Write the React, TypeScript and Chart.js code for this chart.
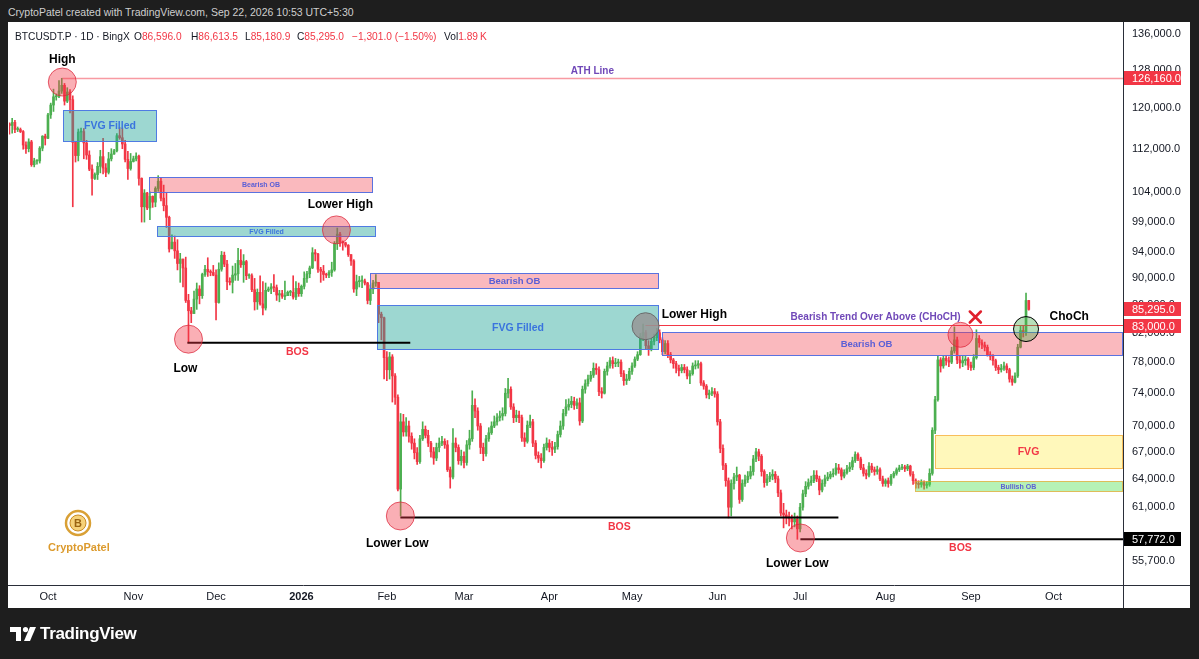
import React, { useEffect, useRef } from "react";
import { Chart, registerables } from "chart.js";

Chart.register(...registerables);

const FONT = '"Liberation Sans", Arial, Helvetica, sans-serif';
const UP = "#4caf50";
const DOWN = "#f23645";

// ---------- DATA (prices in thousand USDT, day 0 = 1 Oct 2025) ----------
const FIRST_CANDLE_DAY = -14; // 17 Sep 2025
const FIRST_OPEN = 116.8;

// rows: [high, low, close]; each open is the previous close
const sep2025 = [
  [117.0, 114.8, 116.5], [117.9, 115.0, 117.1], [117.5, 115.1, 115.7], [116.2, 115.3, 115.7],
  [116.0, 115.1, 115.3], [115.5, 111.9, 112.7], [113.3, 111.1, 112.0], [113.9, 111.4, 113.3],
  [113.6, 108.7, 109.0], [110.2, 108.6, 109.7], [109.9, 109.1, 109.7], [112.4, 109.3, 112.1],
  [114.5, 111.6, 114.4], [114.8, 112.7, 114.0],
];
const oct2025 = [
  [118.9, 113.9, 118.6], [121.0, 117.9, 120.6], [123.9, 119.3, 122.3], [122.9, 121.6, 122.4],
  [125.7, 122.1, 123.5], [126.2, 123.0, 124.7], [125.1, 120.6, 121.4], [124.2, 121.1, 123.3],
  [123.8, 119.0, 121.7], [122.5, 101.5, 113.2], [113.3, 109.5, 110.7], [115.8, 109.7, 115.2],
  [116.0, 113.6, 115.3], [115.9, 110.1, 113.1], [113.6, 110.0, 110.8], [111.6, 107.9, 108.2],
  [109.0, 103.5, 106.5], [107.5, 106.3, 107.2], [109.4, 106.3, 108.7], [111.7, 107.5, 110.5],
  [114.0, 107.3, 108.4], [109.2, 106.8, 107.6], [111.3, 107.3, 110.1], [112.0, 109.7, 111.0],
  [111.9, 110.9, 111.6], [114.9, 111.4, 114.5], [116.1, 113.8, 114.1], [116.0, 112.0, 112.9],
  [113.6, 109.5, 110.0], [111.5, 106.3, 108.3], [111.1, 108.0, 109.6],
];
const nov2025 = [
  [110.6, 109.5, 110.1], [111.2, 109.7, 110.6], [110.8, 105.3, 106.5], [106.6, 98.9, 101.5],
  [104.5, 98.9, 103.9], [104.0, 101.0, 101.3], [104.1, 99.3, 103.3], [103.4, 101.4, 102.3],
  [105.0, 101.5, 104.7], [107.0, 104.2, 106.0], [106.6, 102.5, 103.0], [105.3, 100.8, 101.7],
  [104.0, 98.0, 99.7], [99.9, 94.0, 94.5], [96.8, 94.6, 95.6], [96.6, 93.0, 94.2],
  [96.0, 91.2, 92.2], [93.8, 89.3, 92.9], [92.9, 88.6, 91.5], [93.2, 86.3, 86.6],
  [87.5, 80.6, 85.1], [85.6, 83.4, 84.7], [88.0, 84.7, 86.8], [89.2, 85.3, 88.3],
  [88.8, 86.1, 87.3], [90.7, 86.9, 90.5], [91.9, 90.2, 91.3], [93.1, 90.2, 90.9],
  [91.2, 90.3, 90.8], [91.9, 90.3, 90.4],
];
const dec2025 = [
  [91.2, 83.8, 86.3], [92.3, 86.2, 91.3], [94.1, 91.0, 93.5], [94.0, 91.7, 92.1],
  [92.7, 88.2, 89.4], [90.0, 88.9, 89.3], [91.8, 87.7, 90.4], [92.2, 89.6, 90.6],
  [94.6, 89.6, 92.7], [94.4, 91.6, 92.0], [93.6, 89.3, 92.5], [92.7, 89.7, 90.3],
  [90.6, 89.9, 90.3], [90.6, 87.9, 88.2], [89.9, 85.2, 86.4], [88.3, 85.3, 87.8],
  [90.3, 85.9, 86.1], [89.4, 84.5, 85.5], [89.2, 85.2, 88.1], [88.6, 87.9, 88.3],
  [89.1, 87.6, 88.6], [90.5, 87.9, 88.5], [88.9, 86.6, 87.4], [88.1, 86.4, 87.6],
  [88.1, 86.9, 87.2], [89.5, 86.7, 87.3], [88.0, 87.3, 87.8], [88.1, 87.3, 87.8],
  [90.3, 86.8, 87.1], [89.4, 86.7, 88.4], [89.2, 87.2, 87.6],
];
const jan2026 = [
  [88.9, 87.2, 88.7], [90.9, 88.3, 89.9], [91.0, 89.3, 90.6], [91.8, 90.0, 91.5],
  [94.7, 91.4, 93.9], [94.4, 92.6, 93.7], [93.8, 90.8, 91.3], [91.6, 89.3, 91.0],
  [91.9, 89.6, 90.5], [90.7, 90.0, 90.4], [91.1, 90.0, 90.8], [92.4, 90.2, 91.2],
  [95.7, 91.0, 95.4], [97.9, 94.4, 96.9], [97.2, 94.9, 95.6], [95.8, 94.3, 95.5],
  [95.6, 94.8, 95.1], [95.2, 93.3, 93.6], [93.6, 91.9, 92.6], [92.8, 87.8, 88.3],
  [90.4, 87.3, 89.4], [90.2, 88.6, 89.5], [90.3, 88.5, 89.5], [89.8, 88.9, 89.2],
  [89.3, 86.1, 86.6], [88.9, 86.0, 88.3], [89.6, 87.6, 89.2], [90.5, 88.7, 89.3],
  [89.3, 83.4, 84.6], [84.9, 81.0, 84.1], [84.2, 75.8, 78.6],
];
const feb2026 = [
  [79.4, 75.6, 77.0], [79.3, 75.8, 78.7], [79.0, 72.9, 76.2], [76.5, 72.6, 73.5],
  [73.8, 62.7, 62.9], [71.5, 60.1, 70.5], [71.4, 68.8, 69.3], [71.0, 68.8, 70.0],
  [70.6, 68.1, 68.8], [69.2, 67.3, 68.0], [68.5, 66.2, 66.9], [67.5, 65.6, 65.9],
  [68.9, 65.7, 68.5], [70.5, 68.3, 69.6], [70.0, 68.6, 68.9], [69.5, 67.6, 68.0],
  [68.2, 66.4, 67.0], [67.5, 65.6, 66.3], [68.0, 66.0, 67.5], [68.6, 67.0, 68.0],
  [68.8, 67.7, 68.2], [68.5, 67.4, 67.8], [68.3, 64.8, 65.0], [65.3, 63.0, 64.2],
  [69.7, 64.0, 68.0], [68.6, 67.0, 67.5], [67.8, 65.6, 66.0], [67.2, 65.5, 66.5],
];
const mar2026 = [
  [67.0, 65.2, 65.8], [68.3, 65.5, 67.8], [69.5, 67.3, 68.5], [74.3, 68.2, 72.5],
  [73.3, 71.0, 71.8], [72.2, 69.5, 70.0], [70.3, 66.8, 67.5], [68.0, 66.0, 66.8],
  [68.9, 66.5, 68.5], [69.8, 68.2, 69.2], [70.5, 69.0, 70.0], [71.2, 69.8, 70.5],
  [71.5, 70.1, 71.0], [71.8, 70.6, 71.2], [72.2, 70.7, 71.5], [74.6, 71.2, 74.0],
  [75.9, 73.4, 74.5], [74.8, 72.0, 72.3], [72.7, 70.4, 71.0], [71.9, 70.5, 71.3],
  [71.8, 70.4, 71.0], [71.3, 68.2, 68.6], [69.2, 67.6, 68.2], [70.6, 68.0, 70.1],
  [71.3, 69.8, 70.5], [70.8, 67.6, 68.0], [68.3, 66.2, 66.6], [67.0, 65.8, 66.3],
  [66.8, 65.2, 66.0], [67.9, 65.8, 67.5], [68.6, 67.2, 68.0],
];
const apr2026 = [
  [68.4, 67.0, 67.5], [68.2, 66.6, 67.3], [68.1, 66.9, 67.6], [69.4, 67.3, 69.0],
  [70.6, 68.7, 70.0], [72.0, 69.6, 71.5], [73.2, 71.2, 72.3], [73.3, 71.9, 72.6],
  [73.6, 72.2, 73.0], [73.5, 72.0, 72.5], [73.3, 72.1, 72.8], [73.4, 70.1, 70.6],
  [74.9, 70.4, 74.5], [75.7, 74.0, 75.2], [76.3, 74.9, 75.8], [76.8, 75.5, 76.3],
  [77.9, 76.0, 77.2], [77.8, 76.4, 77.0], [77.4, 73.7, 74.2], [74.7, 73.4, 74.0],
  [77.1, 73.9, 76.8], [78.0, 76.3, 77.5], [78.6, 77.2, 78.2], [78.7, 77.2, 77.8],
  [78.5, 77.4, 77.9], [78.4, 77.4, 78.0], [78.3, 76.1, 76.5], [76.9, 75.0, 75.6],
  [76.4, 75.1, 75.8], [77.2, 75.6, 76.8],
];
const may2026 = [
  [77.9, 76.4, 77.5], [78.7, 77.3, 78.4], [79.4, 78.2, 79.0], [81.9, 78.9, 81.5],
  [83.2, 80.9, 82.0], [82.3, 79.8, 80.2], [80.9, 78.9, 79.8], [81.2, 79.5, 80.8],
  [81.8, 80.3, 81.3], [82.6, 80.9, 82.0], [82.4, 80.6, 81.0], [81.3, 79.0, 79.4],
  [80.9, 79.1, 80.5], [80.9, 78.6, 79.0], [79.3, 77.9, 78.3], [78.5, 77.2, 77.8],
  [78.1, 76.6, 77.2], [77.6, 76.2, 76.9], [77.7, 76.6, 77.3], [77.7, 76.6, 77.0],
  [77.4, 75.8, 76.2], [76.9, 75.2, 76.5], [77.9, 76.3, 77.5], [78.2, 77.1, 77.6],
  [78.2, 77.2, 77.8], [78.0, 75.0, 75.3], [75.6, 74.5, 74.9], [75.1, 73.4, 73.8],
  [74.4, 73.3, 74.0], [74.7, 73.7, 74.2], [74.6, 73.5, 73.9],
];
const jun2026 = [
  [74.2, 70.1, 70.5], [70.8, 66.9, 67.4], [67.8, 65.0, 65.5], [65.7, 63.2, 63.8],
  [64.1, 59.9, 61.0], [63.9, 60.1, 63.5], [64.6, 62.9, 64.2], [65.3, 63.8, 64.4],
  [64.5, 61.4, 61.8], [63.9, 61.6, 63.5], [64.4, 63.2, 63.9], [64.8, 63.6, 64.3],
  [65.4, 64.0, 64.8], [66.6, 64.4, 66.2], [67.4, 65.9, 67.0], [67.3, 66.0, 66.5],
  [66.7, 64.3, 64.8], [65.0, 63.1, 63.6], [64.5, 63.3, 64.0], [64.7, 63.7, 64.3],
  [65.0, 63.9, 64.5], [64.8, 63.6, 64.0], [64.3, 62.1, 62.5], [62.8, 60.1, 60.4],
  [61.4, 58.9, 60.2], [60.7, 59.3, 60.0], [60.5, 59.1, 59.8], [60.2, 58.8, 59.5],
  [60.4, 59.0, 59.8], [60.1, 57.77, 58.8],
];
const jul2026 = [
  [61.4, 58.5, 61.0], [62.8, 60.7, 62.4], [63.7, 62.1, 63.2], [64.0, 62.9, 63.6],
  [64.3, 63.3, 63.8], [64.9, 63.6, 64.4], [64.9, 63.7, 64.0], [64.3, 62.3, 62.8],
  [63.9, 62.6, 63.5], [64.4, 63.2, 64.0], [64.7, 63.8, 64.2], [64.8, 64.0, 64.5],
  [65.1, 64.2, 64.6], [65.7, 64.4, 65.2], [65.6, 64.6, 65.0], [65.2, 63.9, 64.3],
  [65.0, 64.1, 64.7], [65.5, 64.5, 65.1], [65.8, 64.8, 65.3], [66.4, 65.0, 66.0],
  [67.0, 65.8, 66.7], [66.9, 66.0, 66.2], [66.4, 65.0, 65.2], [65.6, 64.3, 64.6],
  [65.0, 64.0, 64.4], [65.8, 64.2, 65.4], [65.7, 64.7, 65.0], [65.3, 64.4, 64.8],
  [65.4, 64.5, 65.0], [65.2, 63.8, 64.0], [64.3, 63.2, 63.5],
];
const aug2026 = [
  [64.0, 63.2, 63.8], [64.1, 63.1, 63.5], [64.5, 63.3, 64.3], [64.8, 64.1, 64.6],
  [65.2, 64.4, 65.0], [65.5, 64.8, 65.2], [65.6, 65.0, 65.3], [65.5, 64.8, 65.1],
  [65.6, 64.9, 65.4], [65.5, 64.3, 64.5], [64.8, 63.4, 63.8], [64.0, 63.0, 63.5],
  [63.8, 63.0, 63.4], [63.9, 63.1, 63.6], [63.8, 62.9, 63.3], [63.7, 63.0, 63.4],
  [65.1, 63.2, 64.6], [69.8, 64.4, 69.5], [73.6, 69.1, 73.2], [78.9, 73.0, 78.3],
  [78.6, 76.7, 77.5], [78.9, 77.2, 78.5], [78.9, 77.6, 78.2], [78.7, 77.4, 78.0],
  [80.0, 77.8, 79.5], [82.8, 79.2, 81.0], [81.4, 77.8, 78.3], [78.8, 77.2, 77.9],
  [78.8, 77.4, 78.2], [78.9, 77.6, 78.4], [78.6, 77.0, 77.6],
];
const sep2026 = [
  [78.0, 76.9, 77.3], [79.0, 77.0, 78.6], [82.4, 78.4, 81.2], [81.6, 80.0, 80.6],
  [81.0, 79.8, 80.3], [80.7, 79.5, 80.0], [80.3, 78.8, 79.0], [79.4, 78.3, 78.8],
  [79.0, 77.6, 78.2], [78.4, 76.9, 77.3], [77.6, 76.5, 77.0], [77.7, 76.7, 77.2],
  [78.0, 76.9, 77.5], [77.8, 76.6, 77.0], [77.2, 75.4, 75.8], [76.2, 75.0, 75.4],
  [76.6, 75.3, 76.2], [80.4, 76.0, 80.0], [82.9, 79.9, 82.3], [83.0, 81.4, 82.0],
  [87.7, 81.6, 86.596], [86.6135, 85.1809, 85.295],
];

const MONTH_TICK_DAYS = [0, 31, 61, 92, 123, 151, 182, 212, 243, 273, 304, 335, 365];
const MONTH_TICK_LABELS = ["Oct", "Nov", "Dec", "2026", "Feb", "Mar", "Apr", "May", "Jun", "Jul", "Aug", "Sep", "Oct"];
const PRICE_TICKS = [136000, 128000, 120000, 112000, 104000, 99000, 94000, 90000, 86000, 82000, 78000, 74000, 70000, 67000, 64000, 61000, 58000, 55700];

// price tags on the right axis
const TAG_PRICES = [126160, 85295, 83000, 57772];
const TAG_KINDS = ["red", "red", "red", "black"];

// ---------- ANNOTATIONS (day, price in k) ----------
const ZONES = [
  { kind: "fvg", from: 5.6, to: 39.7, hi: 119.6, lo: 113.3, label: "FVG Filled", size: 10.5 },
  { kind: "bear", from: 36.8, to: 118.1, hi: 106.8, lo: 103.9, label: "Bearish OB", size: 7 },
  { kind: "fvg", from: 39.7, to: 119.2, hi: 98.25, lo: 96.4, label: "FVG Filled", size: 7 },
  { kind: "bear", from: 117.0, to: 221.6, hi: 90.7, lo: 88.3, label: "Bearish OB", size: 9.5 },
  { kind: "fvg", from: 119.5, to: 221.9, hi: 85.9, lo: 79.6, label: "FVG Filled", size: 10.5 },
  { kind: "bear", from: 223.0, to: null, hi: 82.1, lo: 78.8, label: "Bearish OB", size: 9.5, labelAt: 297.1 },
  { kind: "yellow", from: 322.1, to: null, hi: 68.9, lo: 65.1, label: "FVG", size: 10.5, labelAt: 355.9 },
  { kind: "bull", from: 314.8, to: null, hi: 63.8, lo: 62.6, label: "Bullish OB", size: 7, labelAt: 352.2 },
];
const LEVELS = [
  { kind: "ath", from: 5.2, to: null, price: 126.16 },
  { kind: "bos", from: 50.6, to: 131.5, price: 80.6 },
  { kind: "bos", from: 127.9, to: 286.9, price: 59.95 },
  { kind: "choch", from: 216.9, to: null, price: 83.0 },
  { kind: "bos", from: 273.1, to: null, price: 57.772 },
];
const MARKERS = [
  { kind: "pink", day: 5.2, price: 125.4, r: 14 },
  { kind: "pink", day: 104.7, price: 97.6, r: 14 },
  { kind: "pink", day: 51.0, price: 81.1, r: 14 },
  { kind: "pink", day: 127.9, price: 60.1, r: 14 },
  { kind: "gray", day: 216.9, price: 82.9, r: 13.5 },
  { kind: "pink", day: 273.1, price: 57.9, r: 14 },
  { kind: "pink", day: 331.2, price: 81.7, r: 12.5 },
  { kind: "green", day: 355.0, price: 82.5, r: 12.5 },
];
const NOTES = [
  { kind: "swing", day: 5.2, price: 130.2, text: "High" },
  { kind: "swing", day: 106.1, price: 101.8, text: "Lower High" },
  { kind: "swing", day: 49.9, price: 77.2, text: "Low" },
  { kind: "swing", day: 126.8, price: 57.3, text: "Lower Low" },
  { kind: "swing", day: 234.6, price: 84.5, text: "Lower High" },
  { kind: "swing", day: 272.0, price: 55.4, text: "Lower Low" },
  { kind: "swing", day: 370.7, price: 84.3, text: "ChoCh" },
  { kind: "bos", day: 90.5, price: 79.4, text: "BOS" },
  { kind: "bos", day: 207.4, price: 59.0, text: "BOS" },
  { kind: "bos", day: 331.2, price: 56.9, text: "BOS" },
  { kind: "purple", day: 197.6, price: 127.8, text: "ATH Line" },
  { kind: "purple", day: 300.4, price: 84.1, text: "Bearish Trend Over Above (CHoCH)" },
];
const CROSSES = [{ day: 336.6, price: 84.2 }];

// ---------- STYLES ----------
const ZONE_STYLE: any = {
  fvg: { fill: "rgba(38,166,154,0.45)", stroke: "#4f7be3", text: "#3a74de" },
  bear: { fill: "rgba(242,54,69,0.35)", stroke: "#5a72e0", text: "#5b5fd6" },
  yellow: { fill: "rgba(255,235,59,0.35)", stroke: "rgba(245,160,40,0.65)", text: "#f23645" },
  bull: { fill: "rgba(80,225,80,0.42)", stroke: "rgba(245,160,40,0.65)", text: "#5b5fd6" },
};
const LEVEL_STYLE: any = {
  ath: { color: "rgba(242,54,69,0.5)", width: 1.5 },
  bos: { color: "#000000", width: 2 },
  choch: { color: "#f23645", width: 1 },
};
const MARKER_STYLE: any = {
  pink: { fill: "rgba(242,54,69,0.4)", stroke: "rgba(220,40,60,0.75)" },
  gray: { fill: "rgba(150,150,150,0.85)", stroke: "rgba(100,100,100,0.9)" },
  green: { fill: "rgba(76,175,80,0.4)", stroke: "#000000" },
};
const NOTE_STYLE: any = {
  swing: { color: "#000000", font: `bold 12px ${FONT}` },
  bos: { color: "#f23645", font: `bold 10.5px ${FONT}` },
  purple: { color: "#7048b8", font: `bold 10px ${FONT}` },
};

const fmtPrice = (v: number) =>
  Number(v).toLocaleString("en-US", { minimumFractionDigits: 1, maximumFractionDigits: 1 });

function buildCandles() {
  const rows = [sep2025, oct2025, nov2025, dec2025, jan2026, feb2026, mar2026, apr2026, may2026, jun2026, jul2026, aug2026, sep2026].flat();
  const wicks: any[] = [];
  const bodies: any[] = [];
  const colors: string[] = [];
  let prev = FIRST_OPEN;
  rows.forEach((r: number[], i: number) => {
    const [h, l, c] = r;
    const o = prev;
    prev = c;
    const d = FIRST_CANDLE_DAY + i;
    wicks.push({ x: d, y: [l * 1000, h * 1000] });
    bodies.push({ x: d, y: [o * 1000, c * 1000] });
    colors.push(c >= o ? UP : DOWN);
  });
  return { wicks, bodies, colors };
}

const smcPlugin = {
  id: "smcAnnotations",
  afterDatasetsDraw(chart: any) {
    const { ctx, chartArea: a } = chart;
    const xs = chart.scales.x;
    const ys = chart.scales.y;
    const X = (d: number | null) => (d === null ? a.right : xs.getPixelForValue(d));
    const Y = (p: number) => ys.getPixelForValue(p * 1000);
    ctx.save();
    ctx.beginPath();
    ctx.rect(a.left, a.top, a.right - a.left, a.bottom - a.top);
    ctx.clip();

    for (const z of ZONES as any[]) {
      const st = ZONE_STYLE[z.kind];
      const x1 = Math.round(X(z.from));
      const x2 = Math.round(X(z.to));
      const y1 = Math.round(Y(z.hi));
      const y2 = Math.round(Y(z.lo));
      ctx.fillStyle = st.fill;
      ctx.fillRect(x1, y1, x2 - x1, y2 - y1);
      ctx.strokeStyle = st.stroke;
      ctx.lineWidth = 1;
      ctx.strokeRect(x1 + 0.5, y1 + 0.5, x2 - x1 - 1, y2 - y1 - 1);
      ctx.fillStyle = st.text;
      ctx.font = `bold ${z.size}px ${FONT}`;
      ctx.textAlign = "center";
      ctx.textBaseline = "middle";
      const tx = z.labelAt != null ? X(z.labelAt) : (x1 + x2) / 2;
      ctx.fillText(z.label, tx, (y1 + y2) / 2 + 0.5);
    }

    for (const l of LEVELS as any[]) {
      const st = LEVEL_STYLE[l.kind];
      const yy = Y(l.price);
      ctx.strokeStyle = st.color;
      ctx.lineWidth = st.width;
      ctx.beginPath();
      ctx.moveTo(X(l.from), yy);
      ctx.lineTo(X(l.to), yy);
      ctx.stroke();
    }

    for (const m of MARKERS as any[]) {
      const st = MARKER_STYLE[m.kind];
      ctx.beginPath();
      ctx.arc(X(m.day), Y(m.price), m.r, 0, Math.PI * 2);
      ctx.fillStyle = st.fill;
      ctx.fill();
      ctx.strokeStyle = st.stroke;
      ctx.lineWidth = 1;
      ctx.stroke();
    }

    for (const c of CROSSES) {
      const cx = X(c.day);
      const cy = Y(c.price);
      ctx.strokeStyle = "#e0202c";
      ctx.lineWidth = 2.6;
      ctx.lineCap = "round";
      ctx.beginPath();
      ctx.moveTo(cx - 5.5, cy - 5.5);
      ctx.lineTo(cx + 5.5, cy + 5.5);
      ctx.moveTo(cx + 5.5, cy - 5.5);
      ctx.lineTo(cx - 5.5, cy + 5.5);
      ctx.stroke();
    }

    for (const n of NOTES as any[]) {
      const st = NOTE_STYLE[n.kind];
      ctx.fillStyle = st.color;
      ctx.font = st.font;
      ctx.textAlign = "center";
      ctx.textBaseline = "middle";
      ctx.fillText(n.text, X(n.day), Y(n.price));
    }
    ctx.restore();
  },
  afterDraw(chart: any) {
    const { ctx, chartArea: a } = chart;
    const ys = chart.scales.y;
    ctx.save();
    TAG_PRICES.forEach((p, i) => {
      const yy = Math.round(ys.getPixelForValue(p));
      ctx.fillStyle = TAG_KINDS[i] === "black" ? "#000000" : "#f23645";
      ctx.fillRect(a.right + 1, yy - 7, 57, 14);
      ctx.fillStyle = "#ffffff";
      ctx.font = `11px ${FONT}`;
      ctx.textAlign = "left";
      ctx.textBaseline = "middle";
      ctx.fillText(fmtPrice(p), a.right + 9, yy + 0.5);
    });
    ctx.strokeStyle = "#2a2e39";
    ctx.lineWidth = 1;
    ctx.beginPath();
    ctx.moveTo(0, Math.round(a.bottom) + 0.5);
    ctx.lineTo(chart.width, Math.round(a.bottom) + 0.5);
    ctx.moveTo(Math.round(a.right) + 0.5, 0);
    ctx.lineTo(Math.round(a.right) + 0.5, chart.height);
    ctx.stroke();
    ctx.restore();
  },
};

function CandleChart() {
  const ref = useRef<HTMLCanvasElement | null>(null);
  useEffect(() => {
    if (!ref.current) return;
    const { wicks, bodies, colors } = buildCandles();
    const chart = new Chart(ref.current, {
      type: "bar",
      data: {
        datasets: [
          { data: bodies, backgroundColor: colors, barThickness: 2, grouped: false, minBarLength: 1, borderWidth: 0 } as any,
          { data: wicks, backgroundColor: colors, barThickness: 1, grouped: false, borderWidth: 0 } as any,
        ],
      },
      options: {
        animation: false,
        responsive: true,
        maintainAspectRatio: false,
        devicePixelRatio: 1,
        events: [],
        layout: { padding: { left: 1, right: 0, top: 0, bottom: 0 } },
        plugins: { legend: { display: false }, tooltip: { enabled: false } },
        scales: {
          x: {
            type: "linear",
            min: -14.15,
            max: 390.2,
            offset: false,
            grid: { display: false, drawTicks: false },
            border: { display: false },
            afterBuildTicks: (s: any) => {
              s.ticks = MONTH_TICK_DAYS.map((v) => ({ value: v }));
            },
            afterFit: (s: any) => {
              s.height = 23;
              s.paddingLeft = 0;
              s.paddingRight = 0;
            },
            ticks: {
              autoSkip: false,
              maxRotation: 0,
              padding: 5,
              color: "#131722",
              font: (c: any) => ({ family: FONT, size: 11, weight: c.index === 3 ? "bold" : "normal" }),
              callback: (v: any) => {
                const i = MONTH_TICK_DAYS.indexOf(Number(v));
                return i >= 0 ? MONTH_TICK_LABELS[i] : "";
              },
            },
          },
          y: {
            type: "logarithmic",
            position: "right",
            min: 53464,
            max: 138830,
            beginAtZero: false,
            grid: { display: false, drawTicks: false },
            border: { display: false },
            afterBuildTicks: (s: any) => {
              s.ticks = PRICE_TICKS.map((v) => ({ value: v }));
            },
            afterFit: (s: any) => {
              s.width = 67;
              s.paddingTop = 0;
              s.paddingBottom = 0;
            },
            ticks: {
              autoSkip: false,
              padding: 9,
              color: "#131722",
              font: { family: FONT, size: 11 },
              callback: (v: any) => fmtPrice(Number(v)),
            },
          },
        } as any,
      } as any,
      plugins: [smcPlugin as any],
    });
    return () => chart.destroy();
  }, []);
  return <canvas ref={ref} />;
}

const RED = "#f23645";

export default function App() {
  const legend: [string, string, number][] = [
    ["O", "86,596.0", 134],
    ["H", "86,613.5", 191],
    ["L", "85,180.9", 245],
    ["C", "85,295.0", 297],
    ["", "\u22121,301.0 (\u22121.50%)", 352],
    ["Vol", "1.89\u2009K", 444],
  ];
  return (
    <div style={{ position: "absolute", left: 0, top: 0, width: 1199, height: 659, background: "#1e1e1e", overflow: "hidden", fontFamily: FONT }}>
      <div style={{ position: "absolute", left: 8, top: 6, fontSize: 10.5, lineHeight: "12px", color: "#cfcfcf", whiteSpace: "nowrap" }}>
        CryptoPatel created with TradingView.com, Sep 22, 2026 10:53 UTC+5:30
      </div>
      <div style={{ position: "absolute", left: 8, top: 22, width: 1182, height: 586, background: "#ffffff" }}>
        <div style={{ position: "absolute", left: 0, top: 0, width: 1182, height: 586 }}>
          <CandleChart />
        </div>
        <div style={{ position: "absolute", left: 7, top: 9, fontSize: 10.2, lineHeight: "12px", color: "#131722", whiteSpace: "nowrap" }}>
          BTCUSDT.P · 1D · BingX
        </div>
        {legend.map(([k, v, x]) => (
          <div key={x} style={{ position: "absolute", left: x - 8, top: 9, fontSize: 10.2, lineHeight: "12px", color: "#131722", whiteSpace: "nowrap" }}>
            {k}
            <span style={{ color: RED }}>{v}</span>
          </div>
        ))}
        <div style={{ position: "absolute", left: 40, top: 486, width: 60, textAlign: "center" }}>
          <svg width="30" height="30" viewBox="0 0 30 30" style={{ display: "block", margin: "0 auto" }}>
            <circle cx="15" cy="15" r="12" fill="none" stroke="#d9a035" strokeWidth="2.5" />
            <circle cx="15" cy="15" r="8" fill="#f6d27a" stroke="#c98a22" strokeWidth="1" />
            <text x="15" y="19" textAnchor="middle" fontSize="11" fontWeight="bold" fill="#9a6412" fontFamily={FONT}>B</text>
          </svg>
          <div style={{ fontSize: 11, fontWeight: "bold", color: "#dc9a2c", marginTop: 3, whiteSpace: "nowrap" }}>CryptoPatel</div>
        </div>
      </div>
      <div style={{ position: "absolute", left: 10, top: 626, height: 16, display: "flex", alignItems: "center" }}>
        <svg width="26" height="14" viewBox="0 0 26 14" style={{ display: "block" }}>
          <rect x="0" y="0" width="11" height="5" fill="#ffffff" />
          <rect x="6" y="0" width="5" height="14" fill="#ffffff" />
          <circle cx="15.5" cy="2.6" r="2.6" fill="#ffffff" />
          <polygon points="20,0 26,0 20,14 14,14" fill="#ffffff" />
        </svg>
        <span style={{ marginLeft: 4, color: "#ffffff", fontSize: 17, fontWeight: 600, letterSpacing: -0.3, lineHeight: "16px" }}>TradingView</span>
      </div>
    </div>
  );
}
